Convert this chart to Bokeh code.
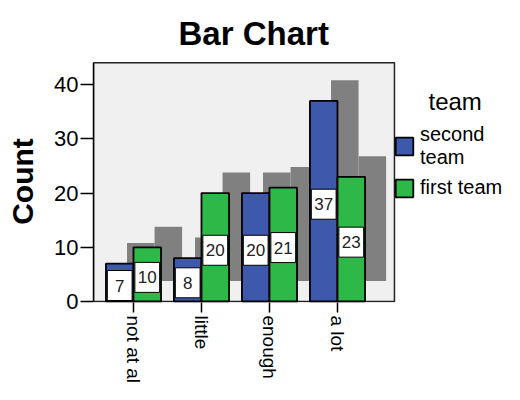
import math
from bokeh.plotting import figure
from bokeh.models import FixedTicker, Legend, LegendItem, Label, Range1d
from bokeh.embed import file_html
from bokeh.resources import INLINE

categories = ["not at al", "little", "enough", "a lot"]
second_team = [7, 8, 20, 37]
first_team = [10, 20, 21, 23]
legend_labels = ["second\nteam", "first team"]
legend_title = "team"
y_ticks = [0, 10, 20, 30, 40]

FONT = "Liberation Sans"
BLUE = "#3E58AC"
GREEN = "#2EB848"
SHADOW = "#808080"
PANEL = "#F0F0F0"
BW = 0.405   # bar width (data units)
DX = 0.31    # shadow offset x (data units)
DY = 3.8     # shadow offset y (data units)
X0, X1 = -0.588, 3.838     # plot-area extent in x
Y1 = 44.06                 # plot-area top

xs = list(range(len(categories)))

p = figure(frame_width=411, frame_height=242, output_backend="svg", toolbar_location=None,
           x_range=Range1d(X0, X0 + 411 / 68.0), y_range=Range1d(-0.185, -0.185 + 242 / 5.42),
           min_border_left=93, min_border_right=0, min_border_top=60, min_border_bottom=82)
p.background_fill_color = "white"
p.border_fill_color = "white"
p.outline_line_color = None
p.grid.visible = False

# plot area panel
p.quad(left=[X0], right=[X1], bottom=[0], top=[Y1], fill_color=PANEL,
       line_color="#222222", line_width=1.5)

blue_l = [x - BW for x in xs]
blue_r = list(xs)
green_l = list(xs)
green_r = [x + BW for x in xs]

# shadows
p.quad(left=[v + DX for v in blue_l], right=[v + DX for v in blue_r], bottom=DY,
       top=[v + DY for v in second_team], fill_color=SHADOW, line_color=None)
p.quad(left=[v + DX for v in green_l], right=[v + DX for v in green_r], bottom=DY,
       top=[v + DY for v in first_team], fill_color=SHADOW, line_color=None)

# bars
rb = p.quad(left=blue_l, right=blue_r, bottom=0, top=second_team,
            fill_color=BLUE, line_color="black", line_width=1.8)
rg = p.quad(left=green_l, right=green_r, bottom=0, top=first_team,
            fill_color=GREEN, line_color="black", line_width=1.8)

# value label boxes
for lefts, vals in ((blue_l, second_team), (green_l, first_team)):
    cx = [l + BW / 2 for l in lefts]
    cy = [v / 2 - 0.55 for v in vals]
    p.rect(x=cx, y=cy, width=BW * 0.9, height=30, height_units="screen",
           fill_color="white", line_color="black", line_width=1)
    p.text(x=cx, y=cy, text=[str(v) for v in vals], text_align="center",
           text_baseline="middle", text_font_size="17px", text_color="#222222",
           text_font={"value": FONT})

# axes
p.xaxis.ticker = FixedTicker(ticks=xs)
p.xaxis.major_label_overrides = {x: c for x, c in zip(xs, categories)}
p.xaxis.major_label_orientation = -math.pi / 2
p.yaxis.ticker = FixedTicker(ticks=y_ticks)
p.yaxis.bounds = (0, Y1)
for ax in (p.xaxis, p.yaxis):
    ax.axis_line_color = "black"
    ax.axis_line_width = 1.5
    ax.major_tick_line_color = "black"
    ax.major_tick_line_width = 1.5
    ax.major_tick_in = 0
    ax.minor_tick_line_color = None
    ax.major_label_text_font = FONT
    ax.major_label_text_color = "black"
p.xaxis.axis_line_color = None
p.xaxis.major_label_text_font_size = "19px"
p.yaxis.major_label_text_font_size = "22px"
p.xaxis.major_tick_out = 10
p.xaxis.major_label_standoff = 3
p.yaxis.major_tick_out = 13
p.yaxis.major_label_standoff = 2
p.yaxis.axis_label = "Count"
p.yaxis.axis_label_text_font = FONT
p.yaxis.axis_label_text_font_size = "30px"
p.yaxis.axis_label_text_font_style = "bold"
p.yaxis.axis_label_text_color = "black"
p.yaxis.axis_label_standoff = 12

# title
p.title.text = "Bar Chart"
p.title.align = "left"
p.title.offset = 85
p.title.standoff = 17
p.title.text_font = FONT
p.title.text_font_size = "33px"
p.title.text_font_style = "bold"
p.title.text_color = "black"

# legend
p.add_layout(Label(x=335, y=201, x_units="screen", y_units="screen", text=legend_title,
                   text_align="left", text_baseline="alphabetic", text_font=FONT,
                   text_font_size="24px", text_color="black"))
legend = Legend(items=[LegendItem(label=legend_labels[0], renderers=[rb]),
                       LegendItem(label=legend_labels[1], renderers=[rg])],
                location=(300, 103), padding=0, margin=0, spacing=7,
                glyph_width=22, glyph_height=22, label_standoff=5,
                label_text_font=FONT, label_text_font_size="20px",
                label_text_color="black", border_line_color=None,
                background_fill_alpha=0)
p.add_layout(legend)

open("out.html", "w").write(file_html(p, INLINE))
